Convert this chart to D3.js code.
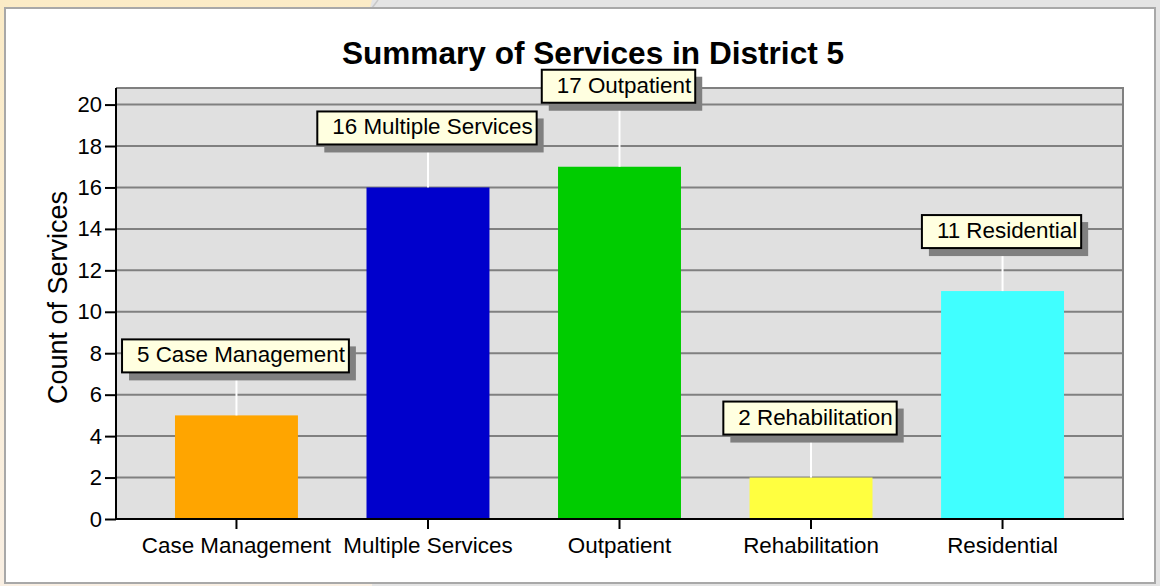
<!DOCTYPE html>
<html>
<head>
<meta charset="utf-8">
<script src="https://cdn.jsdelivr.net/npm/d3@7"></script>
<style>
  html, body { margin: 0; padding: 0; background: #e4e4e4; }
  svg { display: block; font-family: "Liberation Sans", Arial, sans-serif; }
</style>
</head>
<body>
<script>
// chart data
let categories = ['Case Management', 'Multiple Services', 'Outpatient', 'Rehabilitation', 'Residential']
let counts = [5, 16, 17, 2, 11]
let barColors = ['#FFA500', '#0000CC', '#00CC00', '#FFFF40', '#40FFFF']
let yTicks = [0, 2, 4, 6, 8, 10, 12, 14, 16, 18, 20]

let data = categories.map((c, i) => ({course: c, count: counts[i], color: barColors[i]}))

let svgWidth = 1160
let svgHeight = 586

let svg = d3.select('body').append('svg')
            .attr('width', svgWidth)
            .attr('height', svgHeight)

// page background behind the panel
let defs = svg.append('defs')
let grad = defs.append('linearGradient').attr('id', 'beige')
                .attr('x1', 0).attr('y1', 0).attr('x2', 0).attr('y2', 1)
grad.append('stop').attr('offset', '0%').attr('stop-color', '#fbebc6')
grad.append('stop').attr('offset', '100%').attr('stop-color', '#f9efe3')

svg.append('rect').attr('width', svgWidth).attr('height', svgHeight).style('fill', '#e4e4e4')
svg.append('path')
    .attr('d', 'M0,0 L372,0 L370,8 L372,586 L0,586 Z')
    .style('fill', 'url(#beige)')
svg.append('line')
    .attr('x1', 378).attr('y1', 0).attr('x2', 372).attr('y2', 8)
    .style('stroke', '#c8c8c8').style('stroke-width', 1.5)

// white panel
svg.append('rect')
    .attr('x', 5).attr('y', 8)
    .attr('width', 1150).attr('height', 575)
    .style('fill', '#ffffff')
    .style('stroke', '#a8a8a8')
    .style('stroke-width', 2)

// plot margins
let margin = {top: 88, right: 37, bottom: 67, left: 116}
let innerWidth = svgWidth - margin.left - margin.right
let innerHeight = svgHeight - margin.top - margin.bottom

let inner = svg.append('g')
               .attr('transform', 'translate(' + margin.left + ',' + margin.top + ')')

let yScale = d3.scaleLinear()
               .domain([0, 20.8])
               .range([innerHeight, 0])

let xScale = d3.scaleBand()
               .domain(categories)
               .range([0, innerWidth])
               .paddingInner(0.358)
               .paddingOuter(0.308)

// plot background
inner.append('rect')
     .attr('width', innerWidth)
     .attr('height', innerHeight)
     .style('fill', '#e0e0e0')

// gridlines
inner.selectAll('.grid')
     .data(yTicks.filter(t => t > 0))
     .join('line')
     .classed('grid', true)
     .attr('x1', 0).attr('x2', innerWidth)
     .attr('y1', d => yScale(d)).attr('y2', d => yScale(d))
     .style('stroke', '#808080')
     .style('stroke-width', 2)

// top & right frame
inner.append('path')
     .attr('d', 'M0,0 H' + innerWidth + ' V' + innerHeight)
     .style('fill', 'none')
     .style('stroke', '#808080')
     .style('stroke-width', 2)

// bars
inner.selectAll('.bar')
     .data(data)
     .join('rect')
     .classed('bar', true)
     .attr('x', d => xScale(d.course))
     .attr('y', d => yScale(d.count))
     .attr('width', xScale.bandwidth())
     .attr('height', d => yScale(0) - yScale(d.count))
     .style('fill', d => d.color)

// axes
let yAxis = d3.axisLeft(yScale).tickValues(yTicks).tickSize(11).tickPadding(3)
let yG = inner.append('g').call(yAxis)
yG.select('.domain').remove()
yG.append('line').attr('x1', 0).attr('x2', 0).attr('y1', 0).attr('y2', innerHeight)
  .style('stroke', '#000').style('stroke-width', 2)
yG.selectAll('.tick line').style('stroke', '#000').style('stroke-width', 2)
yG.selectAll('.tick text').style('font-size', '22px').style('fill', '#000')
  .attr('font-family', null)

let xAxis = d3.axisBottom(xScale).tickSize(10).tickPadding(8)
let xG = inner.append('g').attr('transform', 'translate(0,' + innerHeight + ')').call(xAxis)
xG.select('.domain').remove()
xG.append('line').attr('x1', -1).attr('x2', innerWidth + 1).attr('y1', 0).attr('y2', 0)
  .style('stroke', '#000').style('stroke-width', 2)
xG.selectAll('.tick line').style('stroke', '#000').style('stroke-width', 2)
xG.selectAll('.tick text').style('font-size', '22.4px').style('fill', '#000')
  .attr('font-family', null)

// data labels: box with drop shadow, white leader line to the bar
let lift = d => d.course == 'Outpatient' ? 64 : 43
let boxH = 33

let labels = inner.selectAll('.label')
                  .data(data)
                  .join('g')
                  .classed('label', true)

labels.each(function (d) {
    let g = d3.select(this)
    let cx = xScale(d.course) + xScale.bandwidth() / 2
    let bottom = yScale(d.count) - lift(d)
    let top = bottom - boxH

    g.append('line')
     .attr('x1', cx).attr('x2', cx)
     .attr('y1', bottom).attr('y2', yScale(d.count))
     .style('stroke', '#ffffff').style('stroke-width', 2)

    let shadow = g.append('rect').style('fill', '#808080')
    let box = g.append('rect')
               .style('fill', '#ffffe0')
               .style('stroke', '#000')
               .style('stroke-width', 2)
    let txt = g.append('text')
               .text(d.count + ' ' + d.course)
               .style('font-size', '22.4px')
               .attr('y', top + 23)
    let tw = txt.node().getComputedTextLength()
    let w = tw + 19
    let left = cx - w / 2 - 1
    txt.attr('x', left + 15)
    box.attr('x', left).attr('y', top).attr('width', w).attr('height', boxH)
    shadow.attr('x', left + 7).attr('y', top + 7).attr('width', w).attr('height', boxH + 1)
})

// title
svg.append('text')
   .attr('x', 593).attr('y', 64)
   .attr('text-anchor', 'middle')
   .style('font-size', '31.6px')
   .style('font-weight', 'bold')
   .text('Summary of Services in District 5')

// y axis title
svg.append('text')
   .attr('transform', 'translate(67,' + (margin.top + innerHeight / 2 - 6) + ') rotate(-90)')
   .attr('text-anchor', 'middle')
   .style('font-size', '27px')
   .text('Count of Services')
</script>
</body>
</html>
